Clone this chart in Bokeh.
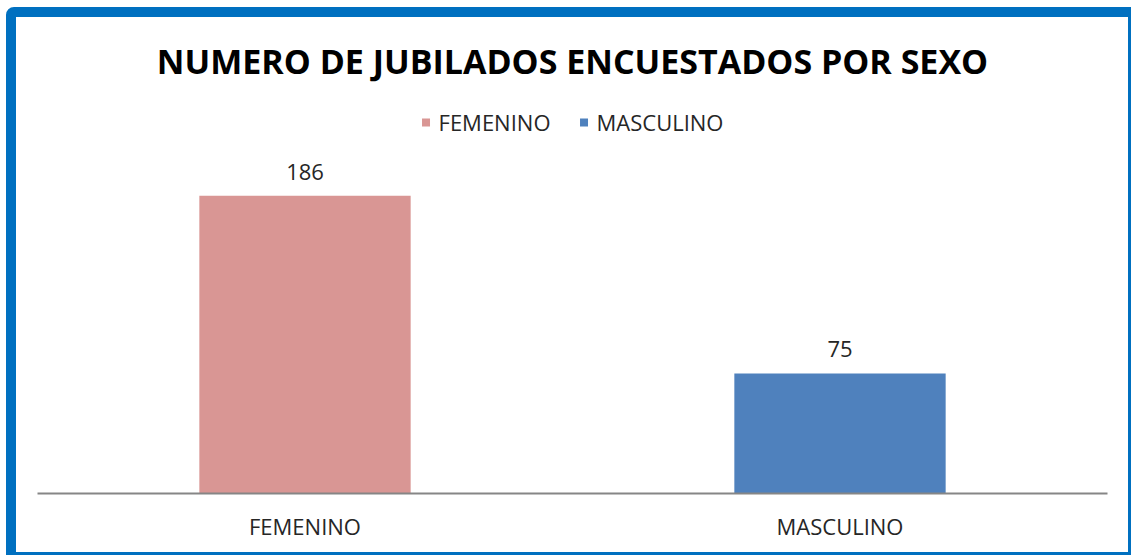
from bokeh.plotting import figure
from bokeh.models import ColumnDataSource, FactorRange, Range1d, Legend, LegendItem
from bokeh.core.properties import value
from bokeh.embed import file_html
from bokeh.resources import INLINE

categories = ["FEMENINO", "MASCULINO"]
counts = [186, 75]
colors = ["#D99694", "#4F81BD"]
labels = [str(v) for v in counts]

src = ColumnDataSource(dict(cat=categories, val=counts, color=colors, lab=labels))

p = figure(
    width=1125, height=548,
    x_range=FactorRange(*categories, range_padding=0),
    y_range=Range1d(0, 243),
    output_backend="svg", toolbar_location=None,
    min_border_left=21, min_border_right=34, min_border_bottom=72, min_border_top=86,
    title="NUMERO DE JUBILADOS ENCUESTADOS POR SEXO",
)
p.styles = {"margin-left": "6px", "margin-top": "7px",
            "border-left": "10px solid #0070C0", "border-top": "10px solid #0070C0",
            "border-right": "3px solid #0070C0", "border-bottom": "3px solid #0070C0",
            "border-top-left-radius": "8px"}
p.background_fill_color = "white"
p.border_fill_color = "white"
p.outline_line_color = None

p.title.align = "center"
p.title.vertical_align = "middle"
p.title.text_font = "Open Sans"
p.title.text_font_size = "34px"
p.title.text_font_style = "bold"
p.title.text_color = "black"
p.title.standoff = 39

r = p.vbar(x="cat", top="val", width=0.395, fill_color="color", line_color=None, source=src)

p.text(x="cat", y="val", text="lab", source=src, text_align="center", text_baseline="middle",
       y_offset=-24, text_font=value("Open Sans"), text_font_size="22px", text_color="#262626")

legend = Legend(items=[LegendItem(label=value(c), renderers=[r], index=i) for i, c in enumerate(categories)],
                location="top_center", orientation="horizontal")
legend.border_line_color = None
legend.background_fill_alpha = 0
legend.padding = 0
legend.margin = 3
legend.spacing = 28
legend.label_standoff = 8
legend.glyph_width = 10
legend.glyph_height = 10
legend.label_text_font = "Open Sans"
legend.label_text_font_size = "22px"
legend.label_text_color = "#262626"
p.add_layout(legend, "center")

p.yaxis.visible = False
p.xgrid.grid_line_color = None
p.ygrid.grid_line_color = None
p.xaxis.axis_line_color = "#868686"
p.xaxis.axis_line_width = 2
p.xaxis.major_tick_line_color = None
p.xaxis.minor_tick_line_color = None
p.xaxis.major_label_text_font = "Open Sans"
p.xaxis.major_label_text_font_size = "22px"
p.xaxis.major_label_text_color = "#262626"
p.xaxis.major_label_standoff = 11

open("out.html", "w").write(file_html(p, INLINE))
